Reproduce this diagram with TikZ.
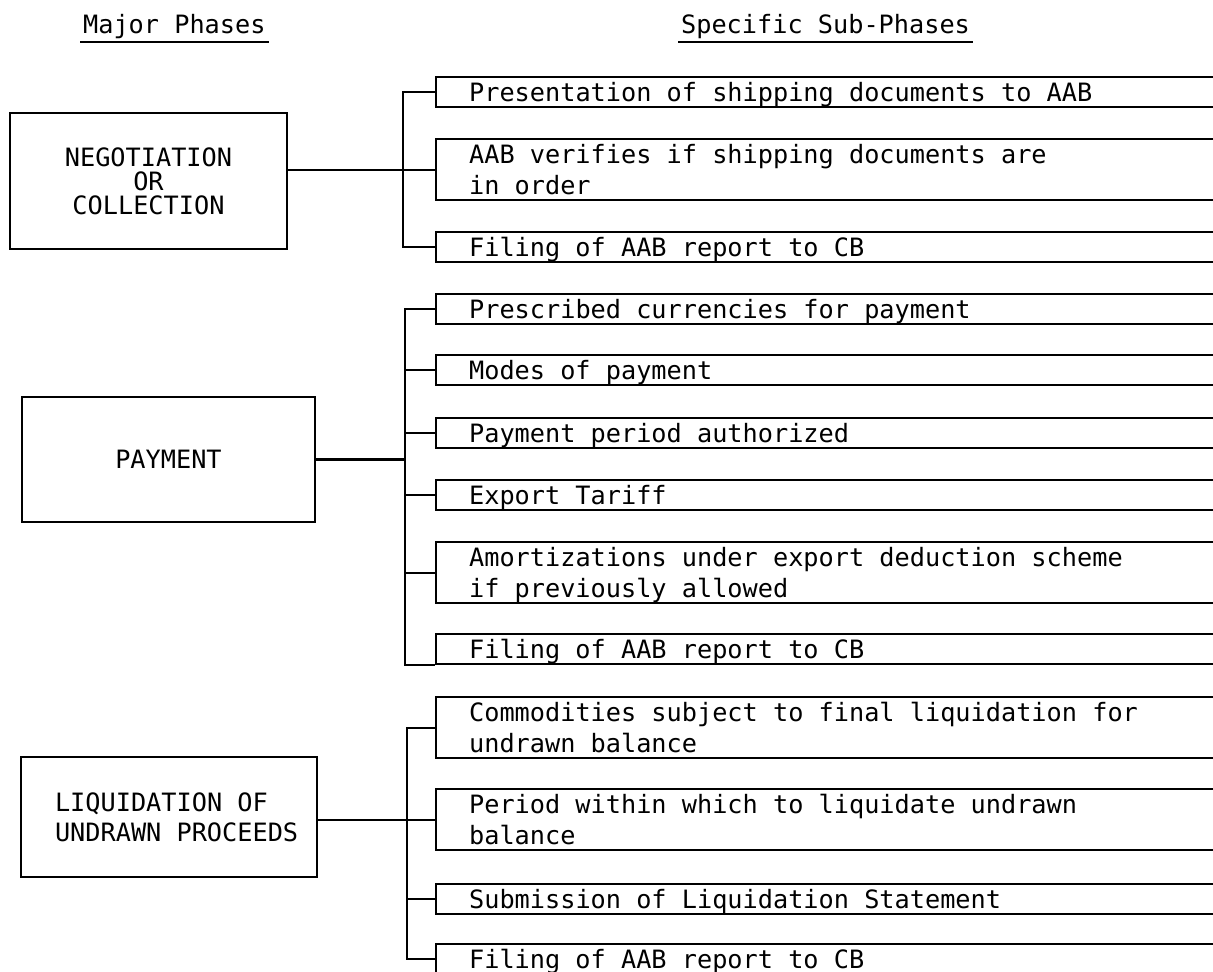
\documentclass[tikz,border=0pt]{standalone}
\usepackage{fontspec}
\newfontfamily\twfont{DejaVu Sans Mono}
\usetikzlibrary{calc}
\newcommand\mytopstrut{\rule{0pt}{24pt}}
\newcommand\mybotstrut{\rule[-6pt]{0pt}{6pt}}
\newcommand\twsize[1]{\twfont\fontsize{25.25}{#1}\selectfont}
\newcommand\monospaces{\spaceskip=15.2pt\relax\xspaceskip=15.2pt\relax}
\begin{document}
\begin{tikzpicture}[x=1pt,y=-1pt,line width=2.2pt,
  every node/.style={font=\twsize{31}, inner sep=0pt},
  subbox/.style={draw, anchor=north west, text width=780pt, inner xsep=33pt, inner ysep=0pt,
    align=left, execute at begin node={\monospaces\mytopstrut}, execute at end node=\mybotstrut},
  major/.style={draw, inner sep=0pt, execute at begin node=\monospaces},
  heading/.style={anchor=base west}]
\useasboundingbox (0,0) rectangle (1213,972);
\clip (0,0) rectangle (1213,972);

% headings
\node[heading] (h1) at (82,33) {Major Phases};
\node[heading] (h2) at (680,33) {Specific Sub-Phases};
\draw[line width=1.8pt] ([shift={(-2,9)}]h1.base west) -- ([shift={(2,9)}]h1.base east);
\draw[line width=1.8pt] ([shift={(-2,9)}]h2.base west) -- ([shift={(2,9)}]h2.base east);

% major phases
\node[major, minimum width=277pt, minimum height=136pt, align=center,
  font=\twsize{24}] (neg) at (148.5,181) {NEGOTIATION\\OR\\COLLECTION};
\node[major, minimum width=293pt, minimum height=125pt] (pay) at (168.5,459.5) {PAYMENT};
\node[major, minimum width=296pt, minimum height=120pt, text width=228pt, inner xsep=34pt,
  align=left, font=\twsize{30}] (liq) at (169,817) {LIQUIDATION OF\\\mbox{UNDRAWN PROCEEDS}};

% group 1
\node[subbox] (s1a) at (435,76) {Presentation of shipping documents to AAB};
\node[subbox] (s1b) at (435,138) {AAB verifies if shipping documents are\\in order};
\node[subbox] (s1c) at (435,231) {Filing of AAB report to CB};

% group 2
\node[subbox] (s2a) at (435,293) {Prescribed currencies for payment};
\node[subbox] (s2b) at (435,354) {Modes of payment};
\node[subbox] (s2c) at (435,417) {Payment period authorized};
\node[subbox] (s2d) at (435,479) {Export Tariff};
\node[subbox] (s2e) at (435,541) {Amortizations under export deduction scheme\\if previously allowed};
\node[subbox] (s2f) at (435,633) {Filing of AAB report to CB};

% group 3
\node[subbox] (s3a) at (435,696) {Commodities subject to final liquidation for\\undrawn balance};
\node[subbox] (s3b) at (435,788) {Period within which to liquidate undrawn\\balance};
\node[subbox] (s3c) at (435,883) {Submission of Liquidation Statement};
\node[subbox] (s3d) at (435,943) {Filing of AAB report to CB};

% connectors group 1
\draw (s1a.west) -- ++(-32,0) |- (s1c.west);
\draw (s1b.west -| neg.east) -- (s1b.west);

% connectors group 2
\coordinate (br2) at (405,0);
\draw (s2a.west) -- (s2a.west -| br2) |- (s2f.south west);
\foreach \n in {b,c,d,e} \draw (s2\n.west) -- (s2\n.west -| br2);
\draw (pay.east) -- (pay.east -| br2);

% connectors group 3
\coordinate (br3) at (407,0);
\draw (s3a.west) -- (s3a.west -| br3) |- (s3d.west);
\draw (s3c.west) -- (s3c.west -| br3);
\draw (s3b.west -| liq.east) -- (s3b.west);
\end{tikzpicture}
\end{document}
